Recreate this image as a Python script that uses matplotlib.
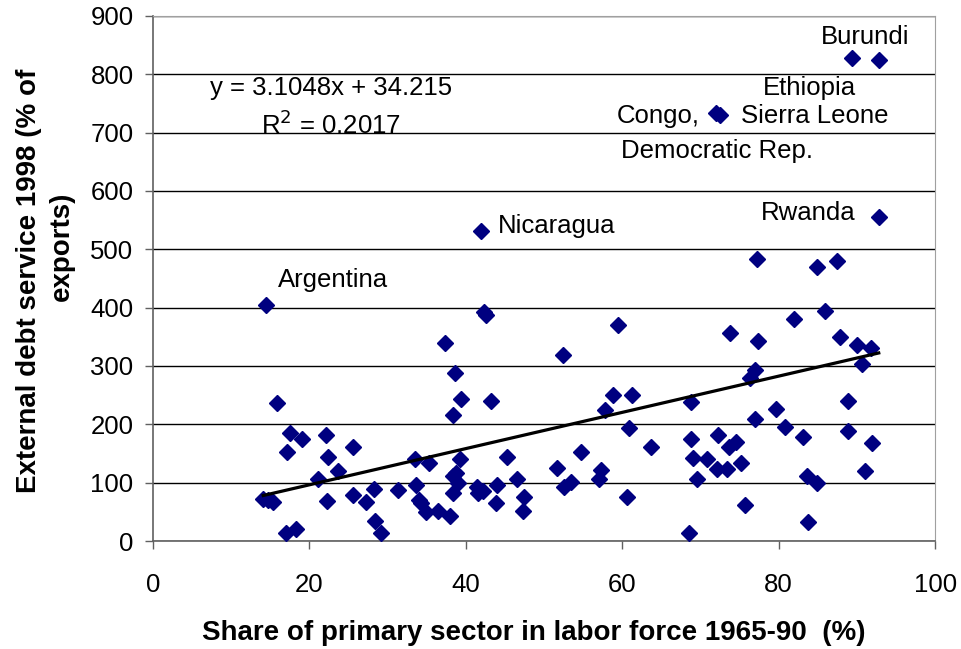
import matplotlib
matplotlib.use("Agg")
import matplotlib.pyplot as plt
import numpy as np

plt.rcParams['font.family'] = ['Liberation Sans', 'DejaVu Sans']

# share of primary sector in labor force (%) and debt service (% of exports)
labor_share = [
    14.4, 15.9, 17.5, 19.0, 22.1, 25.6, 17.2, 22.4, 23.6, 21.1,
    14.1, 14.7, 15.3, 22.3, 25.6, 27.2, 28.2, 31.3, 33.5, 33.6,
    34.0, 34.3, 17.0, 18.3, 28.4, 29.2,
    42.0, 42.3, 42.6, 37.4, 38.6, 39.4, 43.2, 38.4, 52.4, 59.5,
    58.8, 61.2, 57.8, 60.9, 63.7, 54.7, 45.3, 39.2, 35.3, 34.9,
    36.5, 38.0, 38.4, 38.7, 39.0, 38.4, 41.4, 41.6, 42.2, 44.0,
    46.6, 47.5, 43.8, 47.3, 51.7, 52.6, 53.5, 57.3, 57.0, 60.6,
    77.2, 84.9, 87.5, 85.9, 82.0, 73.8, 77.4, 87.9, 90.0, 91.8,
    90.7, 77.0, 76.3, 68.8, 88.9, 79.7, 77.0, 80.8, 83.1, 88.9,
    92.0, 68.8, 72.3, 74.6, 73.6, 69.0, 70.8, 75.2, 72.1, 73.4,
    69.5, 83.6, 84.9, 91.0, 75.7, 83.8, 68.5,
    89.4, 92.8, 72.0, 72.5, 92.8,
]
debt_service = [
    405, 236, 185, 174, 181, 161, 153, 144, 120, 106,
    72, 70, 67, 68, 79, 67, 89, 88, 140, 96,
    70, 66, 13, 20, 35, 13,
    531, 392, 388, 339, 288, 243, 240, 216, 319, 370,
    250, 250, 224, 194, 161, 153, 144, 140, 134, 50,
    51, 43, 112, 116, 99, 82, 93, 82, 85, 96,
    106, 75, 65, 52, 126, 92, 102, 121, 106, 75,
    484, 469, 480, 395, 381, 356, 343, 349, 336, 331,
    304, 293, 279, 239, 240, 226, 209, 195, 178, 189,
    168, 174, 181, 169, 161, 143, 140, 133, 123, 123,
    106, 112, 99, 120, 61, 33, 13,
    828, 825, 733, 730, 555,
]

# country labels and where they sit
country_names = ['Argentina', 'Nicaragua', 'Burundi', 'Ethiopia', 'Congo,',
                 'Sierra Leone', 'Democratic Rep.', 'Rwanda']
label_x = [23.0, 44.1, 91.0, 84.0, 69.9, 75.2, 59.8, 89.8]
label_y = [448, 540, 864, 777, 729, 729, 669, 562]
label_ha = ['center', 'left', 'center', 'center', 'right', 'left', 'left', 'right']

slope = 3.1048
intercept = 34.215
r_squared = 0.2017

fig = plt.figure(figsize=(9.62, 6.49), dpi=100)
ax = fig.add_axes([0.159, 0.1664, 0.813, 0.809])

ax.plot(labor_share, debt_service, linestyle='none', marker='D',
        markersize=8, color='#000080', zorder=3)

xs = np.array([min(labor_share), max(labor_share)])
ax.plot(xs, slope * xs + intercept, color='black', linewidth=2.3, zorder=4)

ax.set_xlim(0, 100)
ax.set_ylim(0, 900)
ax.set_xticks(range(0, 101, 20))
ax.set_yticks(range(0, 901, 100))
ax.yaxis.grid(True, color='black', linewidth=1)
ax.set_axisbelow(True)

for side in ['top', 'right']:
    ax.spines[side].set_color('#a0a0a0')
for side in ['left', 'bottom']:
    ax.spines[side].set_color('#606060')
    ax.spines[side].set_linewidth(1.2)
ax.tick_params(direction='out', length=6, width=1, color='#606060',
               labelsize=18.5)
ax.tick_params(axis='x', pad=17)
ax.tick_params(axis='y', pad=8)

ax.set_xlabel('Share of primary sector in labor force 1965-90  (%)',
              fontsize=20, fontweight='bold')
ax.xaxis.set_label_coords(0.487, -0.150)

# y label: the second line sits off-centre in the original
ax.set_ylabel('External debt service 1998 (% of', fontsize=20,
              fontweight='bold', va='center')
ax.yaxis.set_label_coords(-0.158, 0.495)
ax.text(-0.116, 0.562, 'exports)', transform=ax.transAxes, rotation=90,
        fontsize=20, fontweight='bold', ha='center', va='center')

for name, lx, ly, ha in zip(country_names, label_x, label_y, label_ha):
    ax.text(lx, ly, name, fontsize=18.5, ha=ha, va='center')

ax.text(22.8, 777, f'y = {slope}x + {intercept}', fontsize=18.5,
        ha='center', va='center')
ax.text(22.8, 713, f'R$^2$ = {r_squared}', fontsize=18.5,
        ha='center', va='center')

fig.savefig('out.png', dpi=100)
